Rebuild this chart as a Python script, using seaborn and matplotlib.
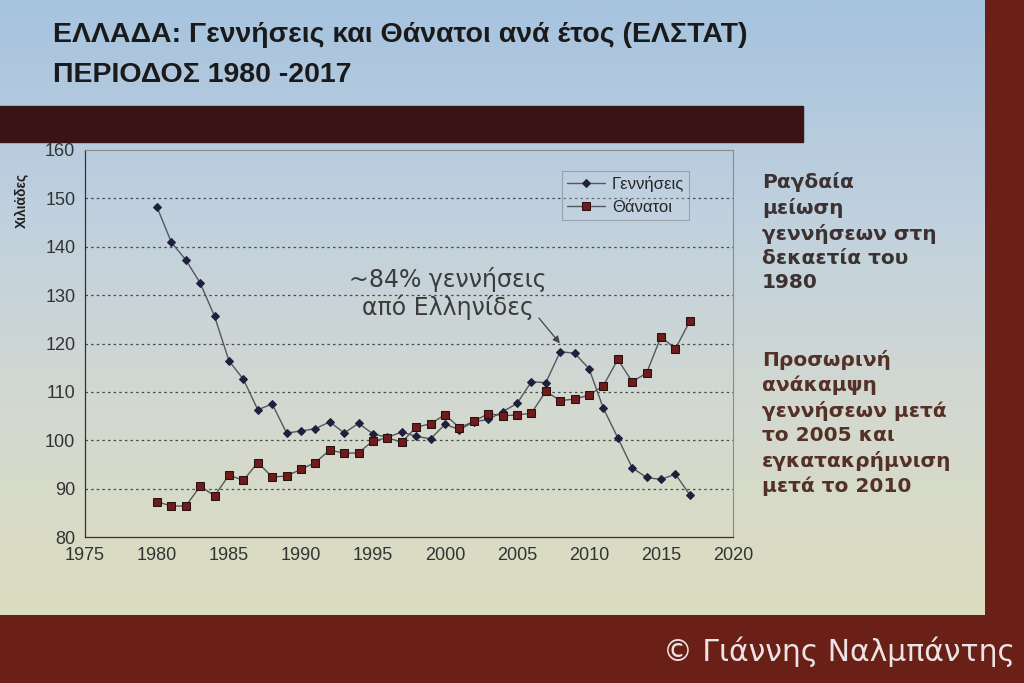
import numpy as np
import pandas as pd
import matplotlib
matplotlib.use("Agg")
import matplotlib.pyplot as plt
from matplotlib.colors import LinearSegmentedColormap
from matplotlib.patches import Rectangle
import seaborn as sns

sns.set_theme(style="white")
plt.rcParams['font.family'] = ['Liberation Sans', 'DejaVu Sans']

# Γεννήσεις / Θάνατοι σε χιλιάδες, 1980-2017
years = list(range(1980, 2018))
births = [148.2, 140.9, 137.3, 132.5, 125.6, 116.4, 112.6, 106.3, 107.5, 101.5,
          101.9, 102.4, 103.8, 101.5, 103.5, 101.3, 100.6, 101.7, 100.8, 100.3,
          103.3, 102.2, 103.8, 104.3, 105.9, 107.6, 112.1, 111.9, 118.3, 118.0,
          114.8, 106.6, 100.5, 94.3, 92.3, 91.9, 93.0, 88.7]
deaths = [87.3, 86.4, 86.4, 90.5, 88.5, 92.8, 91.7, 95.4, 92.4, 92.6,
          94.0, 95.4, 98.0, 97.3, 97.4, 99.9, 100.5, 99.6, 102.7, 103.4,
          105.3, 102.6, 103.9, 105.5, 105.1, 105.2, 105.6, 110.1, 108.2, 108.5,
          109.3, 111.3, 116.7, 112.1, 113.9, 121.4, 118.9, 124.6]
x_ticks = list(range(1975, 2021, 5))
y_ticks = list(range(80, 161, 10))

df = pd.DataFrame({'year': years, 'births': births, 'deaths': deaths})

fig = plt.figure(figsize=(10.24, 6.83), dpi=100, facecolor='#6a1f17')

# background slide (pixel coords)
bg = fig.add_axes([0, 0, 1, 1])
bg.set_xlim(0, 1024)
bg.set_ylim(683, 0)
bg.axis('off')
slide_cmap = LinearSegmentedColormap.from_list('slide', ['#a6c3de', '#bfd0df', '#d3d9d0', '#dcdcbf'])
grad = np.linspace(0, 1, 256).reshape(-1, 1)
bg.imshow(grad, cmap=slide_cmap, extent=(0, 985, 615, 0), aspect='auto', zorder=0)
bg.add_patch(Rectangle((0, 106), 803, 36, color='#3a1414', zorder=1))

fig.text(53, 35, 'ΕΛΛΑΔΑ: Γεννήσεις και Θάνατοι ανά έτος (ΕΛΣΤΑΤ)', transform=bg.transData,
         fontsize=20.5, fontweight='bold', color='#1a1a1a', va='center', ha='left')
fig.text(53, 75, 'ΠΕΡΙΟΔΟΣ 1980 -2017', transform=bg.transData,
         fontsize=20.5, fontweight='bold', color='#1a1a1a', va='center', ha='left')

side_font = ['DejaVu Sans']
fig.text(762, 172, 'Ραγδαία\nμείωση\nγεννήσεων στη\nδεκαετία του\n1980', transform=bg.transData,
         fontsize=14.5, fontweight='bold', color='#3d3232', va='top', ha='left', linespacing=1.36,
         family=side_font)
fig.text(762, 350, 'Προσωρινή\nανάκαμψη\nγεννήσεων μετά\nτο 2005 και\nεγκατακρήμνιση\nμετά το 2010',
         transform=bg.transData, fontsize=14.5, fontweight='bold', color='#553026',
         va='top', ha='left', linespacing=1.36, family=side_font)
fig.text(22, 200, 'Χιλιάδες', transform=bg.transData, rotation=90, fontsize=10,
         fontweight='bold', color='#222222', va='center', ha='center')
fig.text(1015, 652, '© Γιάννης Ναλμπάντης', transform=bg.transData, fontsize=21.5,
         color='#ece4e4', va='center', ha='right', family=['DejaVu Sans'])

# chart
ax = fig.add_axes([85 / 1024, (683 - 537) / 683, 648 / 1024, 387 / 683])
ax.set_facecolor('none')
line_col = '#55565e'
sns.lineplot(data=df, x='year', y='births', ax=ax, color=line_col, lw=1.0,
             marker='D', markersize=4.5, markerfacecolor='#20203e', markeredgecolor='#20203e',
             label='Γεννήσεις')
sns.lineplot(data=df, x='year', y='deaths', ax=ax, color=line_col, lw=1.0,
             marker='s', markersize=6, markerfacecolor='#6e1c1c', markeredgecolor='#2a1010',
             label='Θάνατοι')

ax.set_xlim(1975, 2020)
ax.set_ylim(80, 160)
ax.set_xticks(x_ticks)
ax.set_yticks(y_ticks)
ax.set_xlabel('')
ax.set_ylabel('')
ax.tick_params(axis='both', direction='out', length=4, width=0.8, colors='#333333',
               labelsize=13, labelcolor='#333333', pad=3)
for yv in y_ticks[1:-1]:
    ax.axhline(yv, color='#4a4a4a', lw=0.9, ls=(0, (2, 2.5)), zorder=0)
for side in ['left', 'bottom']:
    ax.spines[side].set_color('#333333')
    ax.spines[side].set_linewidth(0.9)
for side in ['top', 'right']:
    ax.spines[side].set_color('#8a8a8a')
    ax.spines[side].set_linewidth(0.8)

ax.annotate('', xy=(2008.1, 119.6), xytext=(2006.4, 125.7),
            arrowprops=dict(arrowstyle='-|>', color='#444444', lw=0.9, mutation_scale=10))
ax.text(2000.2, 130.3, '~84% γεννήσεις\nαπό Ελληνίδες', fontsize=17, color='#3c3c3c',
        ha='center', va='center', linespacing=1.12, family=['DejaVu Sans'])

leg = ax.legend(loc='upper left', bbox_to_anchor=(0.736, 0.945), fontsize=12,
                frameon=True, fancybox=False, handlelength=2.3, handletextpad=0.4,
                borderpad=0.3, labelspacing=0.45, framealpha=0.25, facecolor='#c8d6e2',
                borderaxespad=0)
leg.get_frame().set_edgecolor('#222222')
leg.get_frame().set_linewidth(0.8)

fig.savefig('out.png', dpi=100, facecolor=fig.get_facecolor())
